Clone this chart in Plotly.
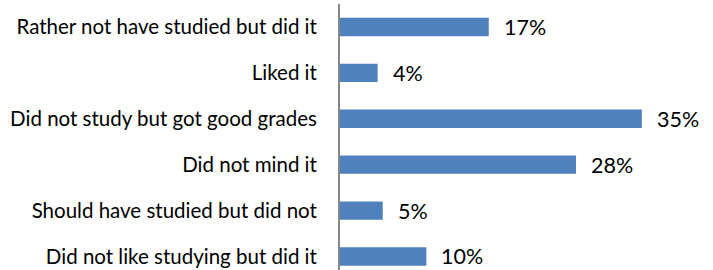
import plotly.graph_objects as go

categories = [
    "Rather not have studied but did it",
    "Liked it",
    "Did not study but got good grades",
    "Did not mind it",
    "Should have studied but did not",
    "Did not like studying but did it",
]
values = [17.4, 4.4, 35.3, 27.6, 5.0, 10.1]
value_labels = [f"{round(v)}%" for v in values]

BAR = "#4F81BD"
FONT = "Lato"

fig = go.Figure(
    go.Bar(
        x=values,
        y=categories,
        orientation="h",
        marker=dict(color=BAR, line=dict(width=0)),
        hoverinfo="skip",
    )
)

for v, c, t in zip(values, categories, value_labels):
    fig.add_annotation(
        x=v, y=c, text=t, xanchor="left", yanchor="middle",
        showarrow=False, xshift=13,
        font=dict(family=FONT, size=21.5, color="#000000"),
    )

fig.update_layout(
    width=713,
    height=270,
    margin=dict(l=340, r=31, t=4, b=0, autoexpand=False),
    paper_bgcolor="white",
    plot_bgcolor="white",
    bargap=0.6,
    showlegend=False,
    font=dict(family=FONT, size=20.5, color="#000000"),
    xaxis=dict(
        range=[0, 40],
        automargin=False,
        showgrid=False,
        zeroline=False,
        showticklabels=False,
        showline=False,
        ticks="",
    ),
    yaxis=dict(
        categoryorder="array",
        categoryarray=categories,
        range=[5.295, -0.5],
        automargin=False,
        showgrid=False,
        zeroline=False,
        showline=True,
        linecolor="#868686",
        linewidth=2,
        ticks="",
        ticklabelstandoff=17,
        tickfont=dict(family=FONT, size=20.5, color="#000000"),
    ),
)

fig.write_html(
    "out.html",
    config={"displayModeBar": False},
    post_script="document.body.style.margin='0';document.body.style.overflow='hidden';",
)
